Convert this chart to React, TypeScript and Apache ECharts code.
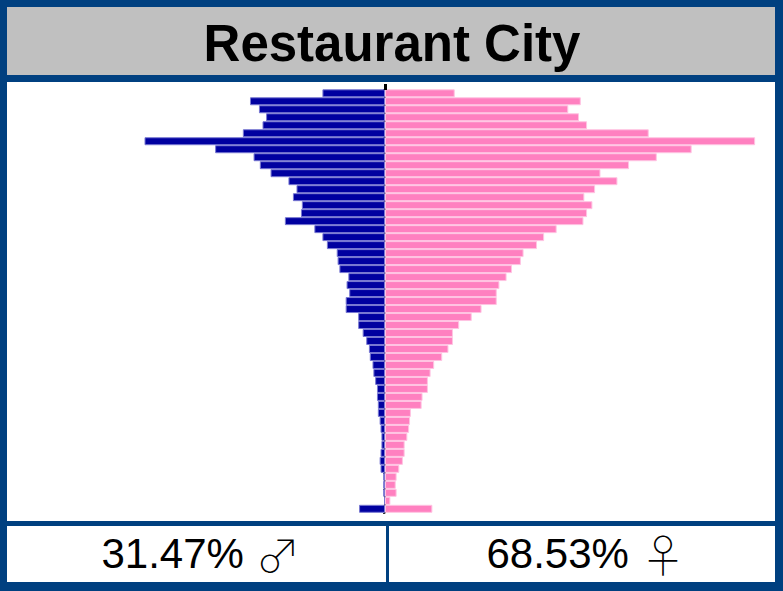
import React, { useEffect, useRef } from "react";
import * as echarts from "echarts";

// Age groups, top (youngest) to bottom
const ages: string[] = [
  "13","14","15","16","17","18","19","20","21","22",
  "23","24","25","26","27","28","29","30","31","32",
  "33","34","35","36","37","38","39","40","41","42",
  "43","44","45","46","47","48","49","50","51","52",
  "53","54","55","56","57","58","59","60","61","62",
  "63","64","65+",
];

// Share of all players (%) per age
const male: number[] = [
  0.70, 1.51, 1.41, 1.33, 1.37, 1.59, 2.69, 1.90, 1.47, 1.40,
  1.28, 1.08, 0.99, 1.03, 0.93, 0.94, 1.12, 0.79, 0.70, 0.65,
  0.54, 0.53, 0.51, 0.41, 0.43, 0.40, 0.44, 0.44, 0.30, 0.30,
  0.25, 0.21, 0.18, 0.17, 0.14, 0.13, 0.11, 0.09, 0.09, 0.08,
  0.08, 0.06, 0.05, 0.04, 0.04, 0.05, 0.06, 0.05, 0.02, 0.02,
  0.02, 0.01, 0.29,
];
const female: number[] = [
  0.78, 2.19, 2.05, 2.17, 2.26, 2.95, 4.14, 3.43, 3.04, 2.73,
  2.41, 2.60, 2.35, 2.23, 2.32, 2.26, 2.22, 1.92, 1.78, 1.70,
  1.55, 1.52, 1.42, 1.36, 1.28, 1.25, 1.25, 1.08, 0.97, 0.83,
  0.76, 0.76, 0.71, 0.64, 0.55, 0.51, 0.48, 0.48, 0.42, 0.41,
  0.29, 0.28, 0.27, 0.25, 0.22, 0.22, 0.20, 0.16, 0.13, 0.12,
  0.13, 0.06, 0.53,
];

const title = "Restaurant City";
const maleShare = "31.47%";
const femaleShare = "68.53%";
const maleSymbol = "♂";
const femaleSymbol = "♀";

const FRAME = "#004080";
const MALE_COLOR = "#0000A0";
const FEMALE_COLOR = "#FF80C0";
const FONT = '"Liberation Sans", Arial, "DejaVu Sans", sans-serif';
const SYMBOL_FONT = '"Noto Sans CJK JP", "DejaVu Sans", sans-serif';

export default function App() {
  const ref = useRef<HTMLDivElement>(null);

  useEffect(() => {
    if (!ref.current) return;
    const chart = echarts.init(ref.current, null, { renderer: "svg" });
    const rich = {
      n: { fontSize: 42, fontFamily: FONT, fill: "#000" },
      s: { fontSize: 45, fontWeight: 100, fontFamily: SYMBOL_FONT, fill: "#000" },
    };
    chart.setOption({
      animation: false,
      backgroundColor: FRAME,
      grid: { left: 9.5, width: 751, top: 89.3, height: 423.5, containLabel: false },
      xAxis: {
        type: "value",
        min: -4.2,
        max: 4.2,
        show: false,
      },
      yAxis: {
        type: "category",
        data: ages,
        inverse: true,
        axisLabel: { show: false },
        axisLine: { onZero: true, lineStyle: { color: "#000", width: 1.5 } },
        axisTick: { show: true, length: 2, lineStyle: { color: "#333" } },
        splitLine: { show: false },
      },
      series: [
        {
          name: "Male",
          type: "bar",
          data: male.map((v) => -v),
          barGap: "-100%",
          barCategoryGap: "0%",
          itemStyle: { color: MALE_COLOR, borderColor: "#7878d2", borderWidth: 1 },
        },
        {
          name: "Female",
          type: "bar",
          data: female,
          barGap: "-100%",
          barCategoryGap: "0%",
          itemStyle: { color: FEMALE_COLOR, borderColor: "#ffc4e2", borderWidth: 1 },
        },
      ],
      graphic: [
        { type: "rect", z: -10, shape: { x: 7, y: 7, width: 768, height: 68 }, style: { fill: "#C0C0C0" } },
        { type: "rect", z: -10, shape: { x: 7, y: 82, width: 768, height: 439 }, style: { fill: "#FFFFFF" } },
        { type: "rect", z: -10, shape: { x: 7, y: 526, width: 379, height: 56 }, style: { fill: "#FFFFFF" } },
        { type: "rect", z: -10, shape: { x: 389, y: 526, width: 386, height: 56 }, style: { fill: "#FFFFFF" } },
        { type: "rect", z: 10, shape: { x: 384, y: 84, width: 3, height: 6 }, style: { fill: "#000" } },
        {
          type: "text", z: 10, x: 392, y: 43,
          style: { text: title, fontSize: 51, fontWeight: "bold", fontFamily: FONT, fill: "#000", align: "center", verticalAlign: "middle" },
        },
        {
          type: "text", z: 10, x: 201, y: 553,
          style: { text: `{n|${maleShare} }{s|${maleSymbol}}`, rich, align: "center", verticalAlign: "middle" },
        },
        {
          type: "text", z: 10, x: 586, y: 553,
          style: { text: `{n|${femaleShare} }{s|${femaleSymbol}}`, rich, align: "center", verticalAlign: "middle" },
        },
      ],
    });
    return () => chart.dispose();
  }, []);

  return (
    <div
      ref={ref}
      style={{ position: "fixed", left: 0, top: 0, width: 783, height: 591 }}
    />
  );
}
